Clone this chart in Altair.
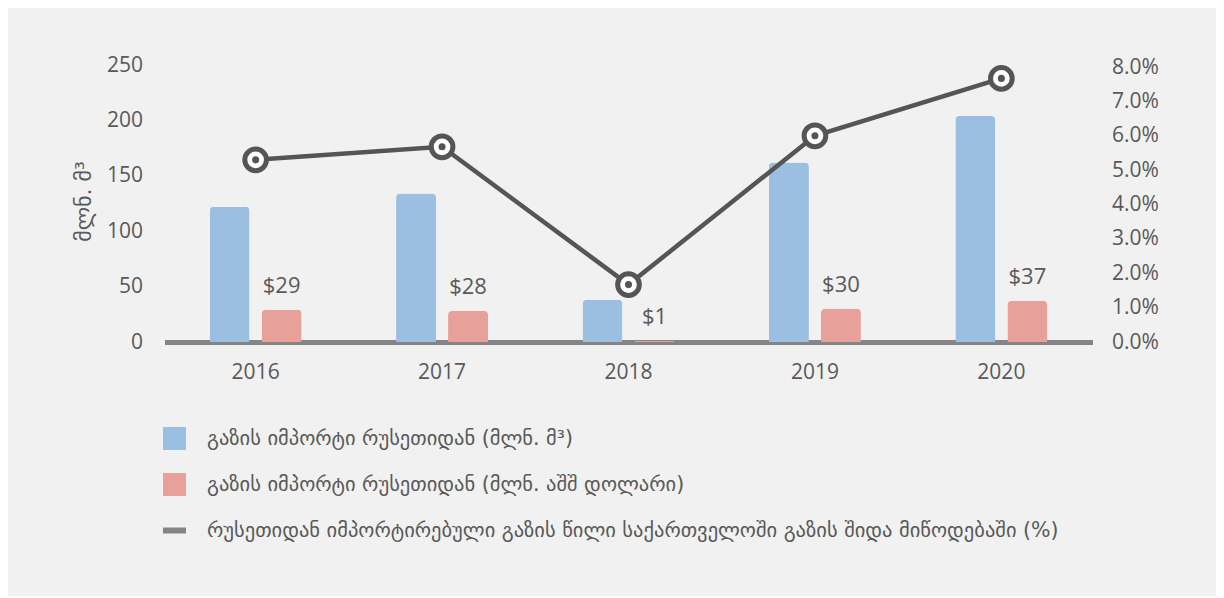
import altair as alt
import pandas as pd

years = ["2016", "2017", "2018", "2019", "2020"]
volume_m3 = [122, 134, 38, 162, 204]
import_usd = [29, 28, 1, 30, 37]
share_pct = [0.053, 0.0568, 0.0167, 0.060, 0.0767]

s1 = "გაზის იმპორტი რუსეთიდან (მლნ. მ³)"
s2 = "გაზის იმპორტი რუსეთიდან (მლნ. აშშ დოლარი)"
s3 = "რუსეთიდან იმპორტირებული გაზის წილი საქართველოში გაზის შიდა მიწოდებაში (%)"
series = [s1, s2, s3]
colors = ["#9BBFE0", "#E8A09A", "#858585"]
shapes = ["square", "square", "M-1,-0.26H1V0.26H-1Z"]

y_title = "მლნ. მ³"
left_ticks = [0, 50, 100, 150, 200, 250]
right_ticks = [0, 0.01, 0.02, 0.03, 0.04, 0.05, 0.06, 0.07, 0.08]

FONT = "Open Sans, DejaVu Sans"
GFONT = "DejaVu Sans"
TXT = "#595959"

bars_df = pd.DataFrame(
    [{"year": y, "series": s1, "value": v} for y, v in zip(years, volume_m3)]
    + [{"year": y, "series": s2, "value": v} for y, v in zip(years, import_usd)]
)
usd_df = pd.DataFrame({"year": years, "series": s2, "value": import_usd,
                       "label": ["$" + str(v) for v in import_usd]})
line_df = pd.DataFrame({"year": years, "share": share_pct})
legend_df = pd.DataFrame({"series": series})

x_axis = alt.Axis(title=None, labelAngle=0, ticks=False, domain=True,
                  domainColor="#858585", domainWidth=5, labelFontSize=21,
                  labelColor=TXT, labelFont=FONT, labelPadding=19)
x_scale = alt.Scale(paddingInner=0.4424, paddingOuter=0.21)
x_enc = alt.X("year:N", scale=x_scale, axis=x_axis, sort=years)
xo_enc = alt.XOffset("series:N", scale=alt.Scale(domain=[s1, s2], paddingInner=0.2308,
                                                 paddingOuter=0.115))

color_scale = alt.Scale(domain=series, range=colors)
shape_scale = alt.Scale(domain=series, range=shapes)
legend = alt.Legend(title=None, orient="none", legendX=-1.5, legendY=362, padding=0,
                    symbolSize=529, labelFontSize=20.5, labelColor=TXT, labelFont=GFONT,
                    labelOffset=21, rowPadding=23, labelLimit=2000,
                    symbolStrokeWidth=0, symbolOpacity=1)

left_y = alt.Y("value:Q", scale=alt.Scale(domain=[0, 250], nice=False),
               axis=alt.Axis(values=left_ticks, grid=False, ticks=False, domain=False,
                             labelFontSize=21, labelColor=TXT, labelFont=FONT,
                             labelPadding=22, title=y_title, titleFontSize=22,
                             titleFont=GFONT, titleColor=TXT, titleFontWeight="normal",
                             titleX=-81, titleY=136, titleAngle=-90,
                             titleBaseline="middle", titleAlign="center"))

bars = alt.Chart(bars_df).mark_bar(cornerRadiusTopLeft=4, cornerRadiusTopRight=4).encode(
    x=x_enc, xOffset=xo_enc, y=left_y,
    color=alt.Color("series:N", scale=color_scale, legend=legend),
)
labels = alt.Chart(usd_df).mark_text(dy=-24, fontSize=22, font=FONT, color=TXT,
                                     baseline="middle").encode(
    x=x_enc, xOffset=xo_enc, y=left_y, text="label:N",
)
legend_layer = alt.Chart(legend_df).mark_point(filled=True, opacity=1).encode(
    color=alt.Color("series:N", scale=color_scale, legend=legend),
    shape=alt.Shape("series:N", scale=shape_scale, legend=legend),
).transform_filter("false")

left = alt.layer(bars, labels, legend_layer)

right_y = alt.Y("share:Q", scale=alt.Scale(domain=[0, 0.0806], nice=False),
                axis=alt.Axis(orient="right", values=right_ticks, format=".1%", grid=False,
                              ticks=False, domain=False, labelFontSize=21,
                              labelColor=TXT, labelFont=FONT, labelPadding=19,
                              title=None))
line = alt.Chart(line_df).mark_line(color="#555555", strokeWidth=4.5).encode(x=x_enc, y=right_y)
rings = alt.Chart(line_df).mark_point(filled=True, fill="white", stroke="#555555",
                                      strokeWidth=5, size=470, opacity=1).encode(x=x_enc, y=right_y)
dots = alt.Chart(line_df).mark_point(filled=True, color="#555555", size=50,
                                     opacity=1).encode(x=x_enc, y=right_y)
right = alt.layer(line, rings, dots)

chart = alt.layer(left, right).resolve_scale(y="independent").properties(
    width=928, height=277,
    autosize=alt.AutoSizeParams(type="none"),
    padding={"left": 156.5, "top": 57, "right": 123.5, "bottom": 254},
    background="#F1F1F1",
).configure_view(strokeWidth=0)

chart.save("out.html", embed_options={"renderer": "svg", "actions": False})
